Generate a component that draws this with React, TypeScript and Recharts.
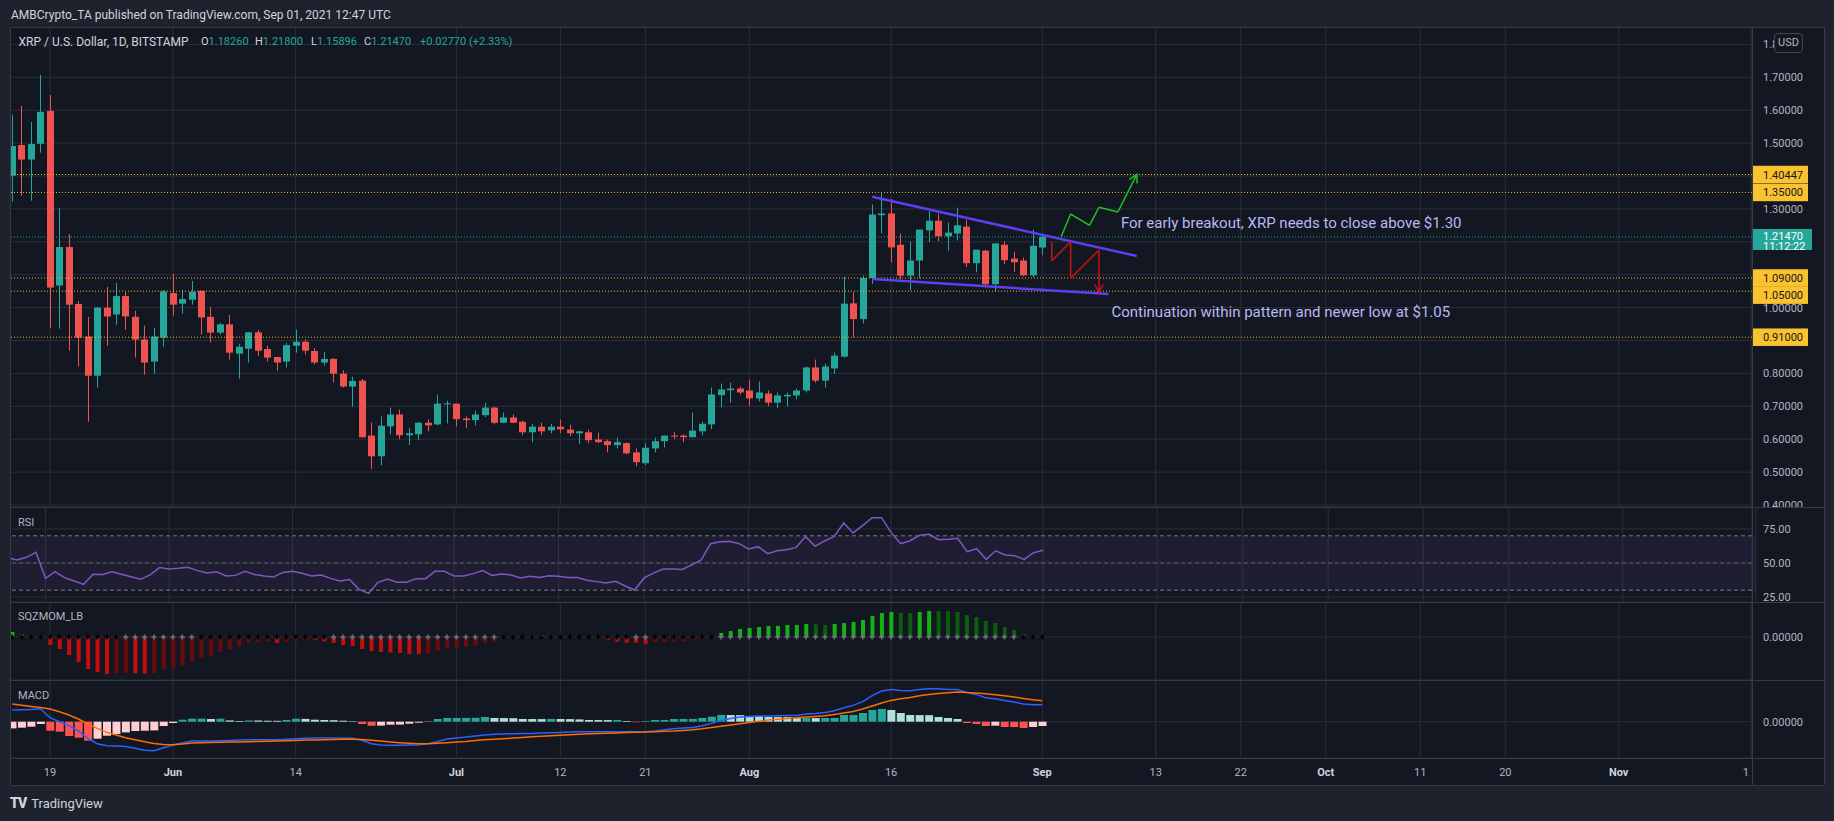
import React from 'react';
import {
  ComposedChart, Bar, Line, XAxis, YAxis, CartesianGrid, ReferenceLine,
  ReferenceArea, ReferenceDot, Cell,
} from 'recharts';

// ---------- data (day 0 = 2021-05-19, first candle = May 15) ----------
const FIRST_DAY = -4;
const LAST_DAY = 180;

const open = [
  1.401, 1.494, 1.450, 1.498, 1.598, 1.067, 1.184, 1.011, 0.912, 0.793,
  1.000, 0.979, 1.035, 0.972, 0.903, 0.836, 0.909, 1.044, 1.012, 1.024,
  1.051, 0.972, 0.924, 0.949, 0.860, 0.875, 0.925, 0.874, 0.850, 0.836,
  0.884, 0.896, 0.868, 0.833, 0.844, 0.799, 0.760, 0.778, 0.611, 0.548,
  0.639, 0.675, 0.612, 0.615, 0.650, 0.645, 0.706, 0.708, 0.663, 0.658,
  0.673, 0.696, 0.650, 0.666, 0.653, 0.621, 0.638, 0.627, 0.638, 0.629,
  0.618, 0.621, 0.599, 0.594, 0.582, 0.588, 0.560, 0.527, 0.572, 0.594,
  0.611, 0.611, 0.606, 0.624, 0.645, 0.734, 0.749, 0.754, 0.748, 0.724,
  0.739, 0.711, 0.730, 0.733, 0.748, 0.818, 0.778, 0.815, 0.851, 1.013,
  0.965, 1.090, 1.281, 1.286, 1.191, 1.097, 1.143, 1.235, 1.264, 1.217,
  1.225, 1.246, 1.135, 1.173, 1.071, 1.191, 1.149, 1.143, 1.098, 1.1826,
];
const high = [
  1.586, 1.613, 1.564, 1.707, 1.646, 1.302, 1.224, 1.020, 0.972, 1.002,
  1.063, 1.075, 1.047, 0.990, 0.945, 0.939, 1.054, 1.102, 1.054, 1.081,
  1.051, 1.002, 0.953, 0.978, 0.890, 0.925, 0.932, 0.884, 0.850, 0.892,
  0.933, 0.903, 0.877, 0.865, 0.847, 0.810, 0.790, 0.783, 0.650, 0.669,
  0.696, 0.690, 0.635, 0.653, 0.660, 0.736, 0.717, 0.708, 0.669, 0.687,
  0.711, 0.699, 0.681, 0.675, 0.656, 0.647, 0.650, 0.647, 0.660, 0.644,
  0.626, 0.629, 0.620, 0.599, 0.605, 0.590, 0.572, 0.588, 0.605, 0.611,
  0.623, 0.615, 0.681, 0.653, 0.757, 0.769, 0.772, 0.760, 0.781, 0.775,
  0.748, 0.742, 0.742, 0.754, 0.821, 0.842, 0.830, 0.863, 1.094, 1.047,
  1.097, 1.313, 1.349, 1.330, 1.225, 1.201, 1.237, 1.295, 1.286, 1.258,
  1.304, 1.267, 1.176, 1.176, 1.195, 1.201, 1.170, 1.152, 1.237, 1.218,
];
const low = [
  1.322, 1.340, 1.325, 1.471, 0.939, 0.936, 0.869, 0.821, 0.653, 0.757,
  0.884, 0.948, 0.933, 0.848, 0.796, 0.799, 0.881, 0.976, 0.982, 1.009,
  0.918, 0.894, 0.918, 0.842, 0.784, 0.833, 0.854, 0.836, 0.808, 0.818,
  0.863, 0.857, 0.827, 0.824, 0.772, 0.757, 0.699, 0.605, 0.509, 0.521,
  0.615, 0.600, 0.582, 0.597, 0.624, 0.642, 0.648, 0.639, 0.633, 0.642,
  0.667, 0.645, 0.650, 0.650, 0.612, 0.591, 0.612, 0.618, 0.618, 0.609,
  0.585, 0.588, 0.588, 0.560, 0.572, 0.554, 0.518, 0.521, 0.560, 0.575,
  0.600, 0.591, 0.606, 0.612, 0.630, 0.697, 0.711, 0.736, 0.700, 0.715,
  0.700, 0.694, 0.700, 0.721, 0.742, 0.772, 0.757, 0.799, 0.848, 0.910,
  0.952, 1.072, 1.226, 1.138, 1.086, 1.052, 1.089, 1.199, 1.202, 1.173,
  1.204, 1.123, 1.107, 1.062, 1.050, 1.132, 1.109, 1.095, 1.092, 1.15896,
];
const close = [
  1.491, 1.450, 1.497, 1.595, 1.061, 1.184, 1.009, 0.909, 0.793, 1.000,
  0.973, 1.035, 0.973, 0.903, 0.833, 0.912, 1.049, 1.009, 1.026, 1.048,
  0.970, 0.924, 0.949, 0.863, 0.881, 0.925, 0.869, 0.848, 0.833, 0.886,
  0.896, 0.869, 0.833, 0.844, 0.799, 0.760, 0.777, 0.606, 0.548, 0.641,
  0.675, 0.612, 0.618, 0.650, 0.642, 0.708, 0.709, 0.661, 0.658, 0.675,
  0.696, 0.650, 0.666, 0.650, 0.621, 0.638, 0.624, 0.638, 0.630, 0.618,
  0.624, 0.597, 0.591, 0.582, 0.591, 0.557, 0.530, 0.574, 0.594, 0.611,
  0.608, 0.606, 0.626, 0.647, 0.736, 0.751, 0.754, 0.742, 0.724, 0.742,
  0.711, 0.733, 0.735, 0.748, 0.818, 0.778, 0.821, 0.854, 1.012, 0.965,
  1.090, 1.283, 1.286, 1.183, 1.097, 1.143, 1.237, 1.264, 1.217, 1.228,
  1.250, 1.135, 1.176, 1.071, 1.195, 1.144, 1.138, 1.098, 1.188, 1.2147,
];
const rsi = [
  53.9, 52.2, 54.2, 57.9, 38.7, 43.6, 39.2, 36.8, 34.3, 41.7,
  41.5, 43.6, 41.7, 39.9, 38.0, 41.2, 46.6, 45.6, 46.1, 46.8,
  44.4, 42.6, 43.6, 40.4, 40.9, 43.9, 41.5, 40.4, 39.7, 43.1,
  43.9, 42.4, 40.4, 41.2, 38.7, 36.8, 37.8, 30.6, 27.7, 35.8,
  38.2, 35.8, 35.8, 38.5, 38.5, 43.9, 43.9, 40.4, 40.4, 42.2,
  44.4, 40.9, 41.9, 41.2, 39.0, 40.2, 39.4, 40.7, 40.2, 39.4,
  39.4, 37.3, 36.3, 35.3, 36.5, 33.1, 30.1, 39.0, 42.6, 45.6,
  45.6, 45.3, 48.5, 52.2, 64.2, 65.7, 65.9, 64.2, 60.3, 62.0,
  56.9, 59.0, 59.8, 61.5, 69.4, 62.3, 66.2, 69.4, 79.4, 72.1,
  77.5, 83.3, 83.3, 72.3, 64.2, 66.4, 70.4, 71.1, 67.1, 67.4,
  68.2, 58.3, 60.5, 52.7, 59.0, 55.9, 55.4, 52.7, 57.6, 59.3,
];
const sqz = [
  0.05, 0.03, 0.005, -0.01, -0.08, -0.12, -0.18, -0.25, -0.32, -0.35,
  -0.37, -0.362, -0.358, -0.362, -0.366, -0.36, -0.32, -0.31, -0.28, -0.25,
  -0.21, -0.19, -0.15, -0.12, -0.10, -0.06, -0.05, -0.04, -0.06, -0.045,
  -0.035, -0.03, -0.032, -0.045, -0.06, -0.08, -0.09, -0.12, -0.14, -0.15,
  -0.155, -0.16, -0.17, -0.172, -0.168, -0.14, -0.11, -0.105, -0.10, -0.08,
  -0.06, -0.04, -0.012, -0.006, 0.004, 0.01, 0.015, 0.012, 0.005, 0.002,
  -0.004, -0.01, -0.012, -0.03, -0.045, -0.055, -0.057, -0.067, -0.053, -0.052,
  -0.047, -0.04, -0.03, -0.023, -0.002, 0.04, 0.06, 0.08, 0.09, 0.10,
  0.11, 0.112, 0.12, 0.121, 0.13, 0.128, 0.12, 0.13, 0.14, 0.15,
  0.17, 0.21, 0.24, 0.25, 0.24, 0.239, 0.25, 0.26, 0.259, 0.258,
  0.25, 0.22, 0.20, 0.16, 0.14, 0.10, 0.07, 0.03, 0.003, -0.01,
];
// 1 = grey cross (no squeeze), 0 = black cross (squeeze on)
const sqzOff = [
  0, 0, 0, 0, 0, 0, 0, 0, 0, 0,
  0, 0, 1, 1, 1, 1, 1, 1, 1, 1,
  0, 0, 0, 0, 0, 0, 0, 0, 0, 0,
  0, 0, 0, 0, 1, 1, 1, 1, 1, 1,
  1, 1, 1, 1, 1, 1, 1, 1, 1, 1,
  1, 1, 0, 0, 0, 0, 0, 0, 0, 0,
  0, 0, 0, 0, 0, 0, 1, 1, 0, 0,
  0, 0, 0, 0, 0, 1, 1, 1, 1, 1,
  1, 1, 1, 1, 1, 1, 1, 1, 1, 1,
  1, 1, 1, 1, 1, 1, 1, 1, 1, 1,
  1, 1, 1, 1, 1, 1, 1, 0, 0, 0,
];
const macd = [
  11.7, 12.0, 12.3, 13.0, 4.0, 0.0, -4.0, -9.3, -16.6, -22.0,
  -24.0, -24.3, -24.7, -26.6, -28.6, -29.0, -26.0, -23.3, -21.3, -19.3,
  -19.3, -19.3, -19.0, -18.7, -18.3, -18.0, -18.0, -18.0, -18.0, -17.6,
  -17.0, -16.6, -16.3, -16.3, -16.3, -16.6, -16.6, -18.6, -22.0, -23.3,
  -23.6, -23.6, -23.3, -23.0, -22.0, -20.0, -17.3, -16.3, -15.3, -14.3,
  -13.3, -12.6, -12.3, -12.0, -11.7, -11.7, -11.3, -11.0, -10.7, -10.3,
  -10.0, -10.0, -10.0, -10.0, -10.0, -10.0, -10.0, -10.0, -9.3, -8.0,
  -7.0, -6.3, -5.7, -4.0, -1.7, 1.3, 3.3, 4.7, 5.3, 5.7,
  5.7, 6.0, 6.3, 6.3, 7.7, 8.3, 9.3, 11.0, 14.0, 16.3,
  20.0, 26.0, 30.7, 32.3, 31.3, 31.0, 32.3, 33.0, 33.0, 32.3,
  32.3, 29.3, 27.3, 24.0, 23.0, 21.3, 19.7, 17.7, 17.0, 17.0,
];
const signal = [
  17.7, 16.5, 15.3, 14.3, 12.7, 10.0, 6.7, 2.7, -2.3, -6.7,
  -10.7, -13.3, -16.0, -18.0, -20.0, -21.7, -22.7, -23.0, -22.3, -21.3,
  -21.0, -20.8, -20.6, -20.4, -20.3, -20.0, -19.8, -19.5, -19.3, -19.0,
  -18.7, -18.4, -18.2, -18.0, -17.7, -17.6, -17.5, -17.8, -18.6, -19.4,
  -20.2, -21.0, -21.6, -22.0, -22.0, -21.6, -21.0, -20.3, -19.7, -18.7,
  -18.1, -17.5, -17.0, -16.4, -15.7, -15.1, -14.6, -14.0, -13.5, -13.0,
  -12.6, -12.1, -11.7, -11.5, -11.2, -10.9, -10.6, -10.3, -10.0, -9.6,
  -9.3, -8.7, -8.0, -7.0, -5.7, -4.5, -3.3, -2.0, -0.7, 0.5,
  1.7, 2.5, 3.3, 4.0, 4.7, 5.3, 6.0, 7.3, 8.7, 10.3,
  12.7, 15.7, 18.7, 21.3, 23.0, 24.3, 26.0, 27.3, 28.3, 29.0,
  29.7, 29.3, 28.7, 28.0, 27.0, 26.0, 24.7, 23.3, 22.0, 21.0,
];
const hist = [
  -6.7, -6.0, -5.0, -2.3, -9.0, -10.0, -14.3, -16.0, -19.0, -17.0,
  -14.0, -12.3, -10.7, -9.3, -9.0, -8.7, -4.3, -1.3, 2.0, 3.0,
  3.1, 2.7, 3.0, 1.3, 0.7, 1.3, 1.2, 1.0, 0.9, 1.7,
  3.0, 2.8, 2.0, 1.7, 1.5, 1.0, 0.5, -2.3, -4.0, -3.9,
  -3.0, -2.9, -2.0, -1.0, -0.3, 2.7, 3.7, 3.75, 3.8, 3.85,
  4.7, 3.7, 3.6, 3.5, 2.7, 2.65, 2.6, 2.8, 2.7, 2.6,
  2.3, 1.7, 1.65, 1.6, 1.7, 0.7, -0.5, 0.7, 1.7, 1.75,
  2.7, 2.75, 2.8, 3.7, 5.0, 6.8, 6.7, 6.6, 5.7, 5.6,
  4.7, 4.65, 4.6, 3.5, 3.7, 3.6, 3.7, 3.75, 6.7, 6.75,
  8.7, 11.7, 12.7, 11.7, 8.7, 6.7, 6.6, 6.5, 4.7, 3.7,
  2.7, -1.3, -2.3, -4.3, -4.0, -5.3, -5.35, -6.3, -5.3, -4.3,
];

const tickDays = [0, 13, 26, 43, 54, 63, 74, 89, 105, 117, 126, 135, 145, 154, 166, 180];
const tickLabels = ['19', 'Jun', '14', 'Jul', '12', '21', 'Aug', '16', 'Sep', '13', '22', 'Oct', '11', '20', 'Nov', '1'];
const monthNames = ['Jun', 'Jul', 'Aug', 'Sep', 'Oct', 'Nov'];
const priceTicks = [0.4, 0.5, 0.6, 0.7, 0.8, 0.9, 1.0, 1.1, 1.2, 1.3, 1.4, 1.5, 1.6, 1.7, 1.8];
const levelValues = [1.40447, 1.35, 1.09, 1.05, 0.91];
const lastPrice = 1.2147;
const countdown = '11:12:22';

// drawings (day, price)
const upperTrend = [{ x: 87, y: 1.337 }, { x: 115, y: 1.157 }];
const lowerTrend = [{ x: 87, y: 1.087 }, { x: 112, y: 1.041 }];
const greenPath = [
  { x: 107, y: 1.2155 }, { x: 108, y: 1.2845 }, { x: 110, y: 1.25 },
  { x: 111, y: 1.305 }, { x: 113, y: 1.2906 }, { x: 115, y: 1.405 },
];
const redPath = [
  { x: 106, y: 1.2 }, { x: 106, y: 1.142 }, { x: 108, y: 1.2 },
  { x: 108, y: 1.089 }, { x: 111, y: 1.175 }, { x: 111, y: 1.047 },
];
const notes = [
  { x: 113, y: 1.258, text: 'For early breakout, XRP needs to close above $1.30' },
  { x: 112, y: 0.987, text: 'Continuation within pattern and newer low at $1.05' },
];

// ---------- styles ----------
const FONT = 'Roboto, "Noto Sans", "DejaVu Sans", sans-serif';
const BG = '#131722';
const PAGE = '#1e222d';
const GRID = '#2a2e39';
const SEP = '#363a45';
const TXT = '#b2b5be';
const UP = '#26a69a';
const DOWN = '#ef5350';
const LEVEL = '#f5b72c';
const TAG = '#f9c22e';
const NOTE = '#b9b7f4';
const TREND = '#5b3ff0';
const W = 1814;
const AXW = 72;
const PAD = { left: -2.5, right: -3.75 };
const M = { top: 0, right: 0, bottom: 0, left: 0 };

// price-scale labels hidden behind a price tag
const tagValues = [...levelValues, lastPrice];
const coveredByTag = (v: number) => tagValues.some((t) => Math.abs(t - v) < 0.03);

// ---------- rows ----------
const rows: any[] = [];
for (let d = FIRST_DAY; d <= LAST_DAY; d++) {
  const i = d - FIRST_DAY;
  const has = i < open.length;
  rows.push({
    d,
    o: has ? open[i] : undefined,
    h: has ? high[i] : undefined,
    l: has ? low[i] : undefined,
    c: has ? close[i] : undefined,
    range: has ? [low[i], high[i]] : undefined,
    rsi: has ? rsi[i] : undefined,
    sqz: has ? sqz[i] : undefined,
    z0: has ? 0 : undefined,
    off: has ? sqzOff[i] : undefined,
    macd: has ? macd[i] : undefined,
    signal: has ? signal[i] : undefined,
    hist: has ? hist[i] : undefined,
  });
}

const sqzColor = (i: number) => {
  const v = sqz[i];
  const p = i > 0 ? sqz[i - 1] : v;
  if (v >= 0) return v >= p ? '#12b312' : '#0b5e0b';
  return v <= p ? '#c40d0d' : '#6a0b0b';
};
const histColor = (i: number) => {
  const v = hist[i];
  const p = i > 0 ? hist[i - 1] : v - 1;
  if (v >= 0) return v >= p ? '#26a69a' : '#b2dfdb';
  return v <= p ? '#ff5252' : '#ffcdd2';
};

// ---------- shapes ----------
const Candle = (props: any) => {
  const { x, y, width, height, payload } = props;
  if (!payload || payload.o == null || !isFinite(y) || !isFinite(height)) return <g />;
  const { o, h, l, c } = payload;
  const top = Math.min(y, y + height);
  const bot = Math.max(y, y + height);
  const span = h - l || 1;
  const yOf = (v: number) => top + ((h - v) / span) * (bot - top);
  const color = c >= o ? UP : DOWN;
  const cx = Math.round(x + width / 2) + 0.5;
  const bTop = yOf(Math.max(o, c));
  const bBot = yOf(Math.min(o, c));
  return (
    <g>
      <line x1={cx} x2={cx} y1={top} y2={bot} stroke={color} strokeWidth={1} />
      <rect x={cx - 3.5} y={bTop} width={7} height={Math.max(1, bBot - bTop)} fill={color} />
    </g>
  );
};

const CrossDot = (props: any) => {
  const { cx, cy, payload, index } = props;
  if (!payload || payload.z0 == null || !isFinite(cx) || !isFinite(cy)) return <g key={`x${index}`} />;
  const col = payload.off ? '#70737c' : '#000000';
  return (
    <path key={`x${index}`} d={`M${cx - 2.5},${cy}H${cx + 2.5}M${cx},${cy - 2.5}V${cy + 2.5}`} stroke={col} strokeWidth={1.6} />
  );
};

const PriceTick = (props: any) => {
  const { x, y, payload } = props;
  if (coveredByTag(Number(payload.value))) return <g />;
  return (
    <text x={x} y={y} dy={4} fill={TXT} fontSize={11} fontFamily={FONT} textAnchor="start">
      {Number(payload.value).toFixed(5)}
    </text>
  );
};
const ZeroTick = (props: any) => {
  const { x, y, payload } = props;
  return (
    <text x={x} y={y} dy={4} fill={TXT} fontSize={11} fontFamily={FONT} textAnchor="start">
      {Number(payload.value).toFixed(5)}
    </text>
  );
};
const RsiTick = (props: any) => {
  const { x, y, payload } = props;
  return (
    <text x={x} y={y} dy={4} fill={TXT} fontSize={11} fontFamily={FONT} textAnchor="start">
      {Number(payload.value).toFixed(2)}
    </text>
  );
};
const TimeTick = (props: any) => {
  const { x, y, payload } = props;
  const idx = tickDays.indexOf(payload.value);
  const label = tickLabels[idx] ?? '';
  const isMonth = monthNames.includes(label);
  const last = idx === tickDays.length - 1;
  return (
    <text x={last ? x - 2 : x} y={y} dy={18} fill={isMonth ? '#d1d4dc' : TXT} fontSize={11}
      fontWeight={isMonth ? 700 : 400} fontFamily={FONT} textAnchor={last ? 'end' : 'middle'}>
      {label}
    </text>
  );
};

const levelTag = (value: number, shift: number) => (props: any) => {
  const vb = props.viewBox || {};
  const x = (vb.x ?? 0) + (vb.width ?? 0);
  const y = (vb.y ?? 0) + shift;
  return (
    <g>
      <rect x={x} y={y - 8.75} width={56} height={17.5} fill={TAG} />
      <text x={x + 11} y={y} dy={4} fill="#131722" fontSize={11} fontFamily={FONT}>{value.toFixed(5)}</text>
    </g>
  );
};
const lastTag = (props: any) => {
  const vb = props.viewBox || {};
  const x = (vb.x ?? 0) + (vb.width ?? 0);
  const y = vb.y ?? 0;
  return (
    <g>
      <rect x={x} y={y - 8} width={60} height={21} fill={UP} />
      <text x={x + 11} y={y} dy={3} fill="#ffffff" fontSize={11} fontFamily={FONT}>{lastPrice.toFixed(5)}</text>
      <text x={x + 11} y={y} dy={13} fill="#ffffff" fontSize={11} fontFamily={FONT}>{countdown}</text>
    </g>
  );
};
const noteLabel = (text: string) => (props: any) => {
  const vb = props.viewBox || {};
  const x = (vb.x ?? 0) + (vb.width ?? 0) / 2;
  const y = (vb.y ?? 0) + (vb.height ?? 0) / 2;
  return (
    <text x={x + 3} y={y} dy={5} fill={NOTE} fontSize={15} fontFamily={FONT}>{text}</text>
  );
};
const arrowShape = (color: string) => (props: any) => {
  const { x1, y1, x2, y2 } = props;
  const ang = Math.atan2(y2 - y1, x2 - x1);
  const L = 9;
  const A = 0.5;
  const p1 = `${x2 - L * Math.cos(ang - A)},${y2 - L * Math.sin(ang - A)}`;
  const p2 = `${x2 - L * Math.cos(ang + A)},${y2 - L * Math.sin(ang + A)}`;
  return (
    <g>
      <line x1={x1} y1={y1} x2={x2} y2={y2} stroke={color} strokeWidth={1.5} />
      <polyline points={`${p1} ${x2},${y2} ${p2}`} fill="none" stroke={color} strokeWidth={1.5} />
    </g>
  );
};

const segs = (pts: { x: number; y: number }[]) =>
  pts.slice(1).map((p, i) => [pts[i], p] as [{ x: number; y: number }, { x: number; y: number }]);

const abs = (left: number, top: number): React.CSSProperties => ({ position: 'absolute', left, top });

const PaneLabel = ({ top, text }: { top: number; text: string }) => (
  <div style={{ ...abs(18, top), color: TXT, fontSize: 11, lineHeight: '14px', fontFamily: FONT }}>{text}</div>
);

export default function App() {
  const greenSegs = segs(greenPath);
  const redSegs = segs(redPath);
  return (
    <div style={{ position: 'absolute', left: 0, top: 0, width: 1834, height: 821, background: PAGE, overflow: 'hidden', fontFamily: FONT }}>
      {/* header */}
      <div style={{ ...abs(11, 8), color: '#d1d4dc', fontSize: 12, lineHeight: '14px' }}>
        AMBCrypto_TA published on TradingView.com, Sep 01, 2021 12:47 UTC
      </div>
      {/* frame */}
      <div style={{ ...abs(10, 27), width: W, height: 758, background: BG }} />

      {/* price pane */}
      <div style={abs(10, 27)}>
        <ComposedChart width={W} height={480} data={rows} margin={M}>
          <CartesianGrid stroke={GRID} />
          <XAxis dataKey="d" type="category" hide ticks={tickDays} interval={0} padding={PAD} />
          <YAxis orientation="right" width={AXW} type="number" domain={[0.3939, 1.8529]} allowDataOverflow
            ticks={priceTicks} interval={0} tick={PriceTick} tickLine={false} axisLine={false} tickSize={0} tickMargin={11} />
          <Bar dataKey="range" shape={Candle} barSize={7} isAnimationActive={false} />
          {levelValues.map((v, i) => (
            <ReferenceLine key={`lv${i}`} y={v} stroke={LEVEL} strokeDasharray="1 2" strokeWidth={1}
              label={levelTag(v, i === 3 ? 4 : 0)} />
          ))}
          <ReferenceLine y={lastPrice} stroke={UP} strokeDasharray="1 2" strokeWidth={1} label={lastTag} />
          <ReferenceLine segment={upperTrend} stroke={TREND} strokeWidth={2.5} />
          <ReferenceLine segment={lowerTrend} stroke={TREND} strokeWidth={2.5} />
          {greenSegs.map((s, i) => (
            <ReferenceLine key={`g${i}`} segment={s} stroke="#1ec41e" strokeWidth={1.5}
              shape={i === greenSegs.length - 1 ? arrowShape('#1ec41e') : undefined} />
          ))}
          {redSegs.map((s, i) => (
            <ReferenceLine key={`r${i}`} segment={s} stroke="#c81212" strokeWidth={1.5}
              shape={i === redSegs.length - 1 ? arrowShape('#c81212') : undefined} />
          ))}
          {notes.map((n, i) => (
            <ReferenceDot key={`n${i}`} x={n.x} y={n.y} r={0} fill="none" stroke="none" label={noteLabel(n.text)} />
          ))}
        </ComposedChart>
      </div>

      {/* RSI pane */}
      <div style={abs(10, 507)}>
        <ComposedChart width={W} height={95} data={rows} margin={M}>
          <CartesianGrid stroke={GRID} />
          <XAxis dataKey="d" type="category" hide ticks={tickDays} interval={0} padding={PAD} />
          <YAxis orientation="right" width={AXW} type="number" domain={[21.32, 91.18]} allowDataOverflow
            ticks={[25, 50, 75]} interval={0} tick={RsiTick} tickLine={false} axisLine={false} tickSize={0} tickMargin={11} />
          <ReferenceArea y1={30} y2={70} fill="rgba(126,87,194,0.1)" fillOpacity={1} stroke="none" />
          <ReferenceLine y={70} stroke="#787b86" strokeDasharray="4 3" />
          <ReferenceLine y={50} stroke="#5d606b" strokeDasharray="4 3" />
          <ReferenceLine y={30} stroke="#787b86" strokeDasharray="4 3" />
          <Line dataKey="rsi" stroke="#7e57c2" strokeWidth={1.5} dot={false} activeDot={false} isAnimationActive={false} />
        </ComposedChart>
      </div>

      {/* SQZMOM pane */}
      <div style={abs(10, 602)}>
        <ComposedChart width={W} height={78} data={rows} margin={M}>
          <CartesianGrid stroke={GRID} />
          <XAxis dataKey="d" type="category" hide ticks={tickDays} interval={0} padding={PAD} />
          <YAxis orientation="right" width={AXW} type="number" domain={[-0.43, 0.35]} allowDataOverflow
            ticks={[0]} interval={0} tick={ZeroTick} tickLine={false} axisLine={false} tickSize={0} tickMargin={11} />
          <Bar dataKey="sqz" barSize={4} isAnimationActive={false}>
            {rows.map((r, i) => (
              <Cell key={`s${i}`} fill={i < sqz.length ? sqzColor(i) : 'none'} />
            ))}
          </Bar>
          <Line dataKey="z0" stroke="none" dot={CrossDot} activeDot={false} isAnimationActive={false} />
        </ComposedChart>
      </div>

      {/* MACD pane + time axis */}
      <div style={abs(10, 680)}>
        <ComposedChart width={W} height={105} data={rows} margin={M}>
          <CartesianGrid stroke={GRID} />
          <XAxis dataKey="d" type="category" ticks={tickDays} interval={0} padding={PAD} height={27}
            tick={TimeTick} tickLine={false} axisLine={false} tickSize={0} tickMargin={0} />
          <YAxis orientation="right" width={AXW} type="number" domain={[-36.3, 41.7]} allowDataOverflow
            ticks={[0]} interval={0} tick={ZeroTick} tickLine={false} axisLine={false} tickSize={0} tickMargin={11} />
          <Bar dataKey="hist" barSize={8} isAnimationActive={false}>
            {rows.map((r, i) => (
              <Cell key={`h${i}`} fill={i < hist.length ? histColor(i) : 'none'} />
            ))}
          </Bar>
          <Line dataKey="macd" stroke="#2962ff" strokeWidth={1.5} dot={false} activeDot={false} isAnimationActive={false} />
          <Line dataKey="signal" stroke="#ff6d00" strokeWidth={1.5} dot={false} activeDot={false} isAnimationActive={false} />
        </ComposedChart>
      </div>

      {/* separators */}
      {[27, 507, 602, 680, 758, 785].map((t) => (
        <div key={`sep${t}`} style={{ ...abs(10, t - 0.5), width: W, height: 1, background: SEP }} />
      ))}
      <div style={{ ...abs(1752, 27), width: 1, height: 758, background: SEP }} />
      <div style={{ ...abs(1824, 27), width: 1, height: 758, background: SEP }} />
      <div style={{ ...abs(10, 27), width: 1, height: 758, background: SEP }} />

      {/* legend */}
      <div style={{ ...abs(18.6, 35), color: '#d1d4dc', fontSize: 12, lineHeight: '14px', whiteSpace: 'nowrap' }}>XRP / U.S. Dollar, 1D, BITSTAMP</div>
      {[['O', '1.18260', 201], ['H', '1.21800', 255], ['L', '1.15896', 311], ['C', '1.21470', 364]].map(([k, v, x]) => (
        <div key={`lg${k}`} style={{ ...abs(x as number, 35), fontSize: 11, lineHeight: '14px', whiteSpace: 'nowrap' }}>
          <span style={{ color: '#d1d4dc' }}>{k}</span><span style={{ color: UP }}>{v}</span>
        </div>
      ))}
      <div style={{ ...abs(420, 35), color: UP, fontSize: 11, lineHeight: '14px', whiteSpace: 'nowrap' }}>+0.02770 (+2.33%)</div>

      {/* pane labels */}
      <PaneLabel top={516} text="RSI" />
      <PaneLabel top={610} text="SQZMOM_LB" />
      <PaneLabel top={689} text="MACD" />

      {/* USD badge */}
      <div style={{ ...abs(1774, 33), width: 27, height: 18, border: '1px solid #434651', borderRadius: 4, background: BG,
        color: TXT, fontSize: 11, lineHeight: '18px', textAlign: 'center' }}>USD</div>

      {/* logo */}
      <div style={{ ...abs(10, 795), color: '#d1d4dc', fontSize: 13, lineHeight: '16px', whiteSpace: 'nowrap' }}>
        <span style={{ fontWeight: 900, fontSize: 14, letterSpacing: -1, marginRight: 5 }}>TV</span>TradingView
      </div>
    </div>
  );
}
